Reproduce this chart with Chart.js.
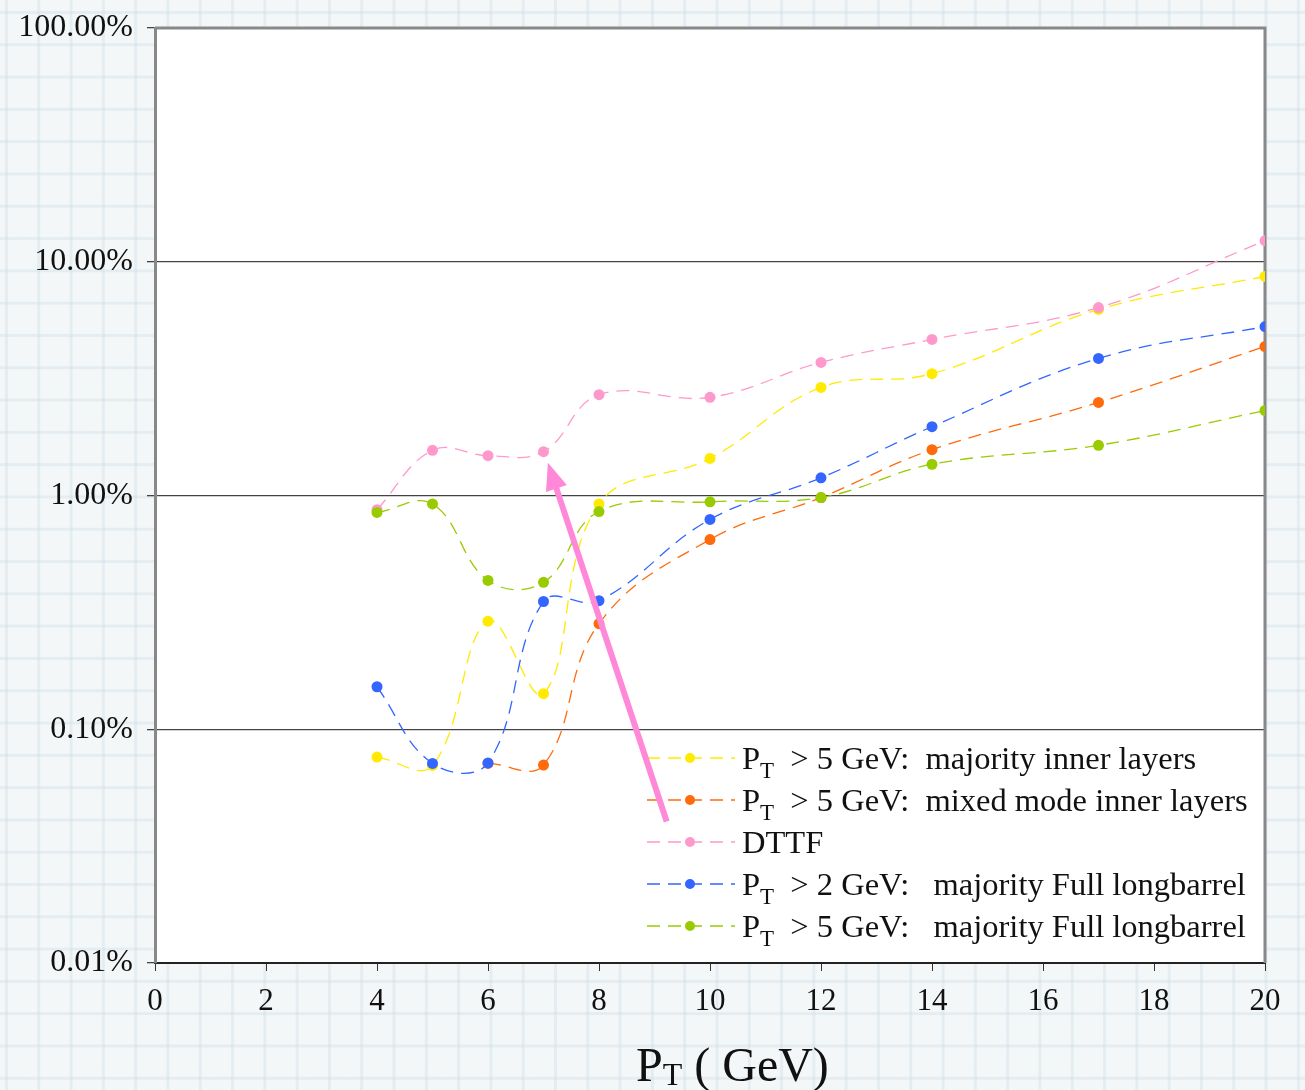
<!DOCTYPE html>
<html>
<head>
<meta charset="utf-8">
<script src="https://cdn.jsdelivr.net/npm/chart.js@4.4.1/dist/chart.umd.min.js"></script>
<style>
  html, body { margin: 0; padding: 0; }
  body {
    width: 1305px; height: 1090px; overflow: hidden;
    background-color: #f4f7f8;
    background-image:
      linear-gradient(to right, rgba(205, 222, 230, 0.4) 3px, transparent 3px),
      linear-gradient(to bottom, rgba(205, 222, 230, 0.4) 3px, transparent 3px);
    background-size: 32.3px 32.3px;
    background-position: 5px 11px;
  }
  #wrap { position: absolute; left: 0; top: 0; width: 1305px; height: 1090px; }
</style>
</head>
<body>
<div id="wrap"><canvas id="effChart" width="1305" height="1090"></canvas></div>
<script>
// transverse momentum points (GeV)
const ptValues = [4, 5, 6, 7, 8, 10, 12, 14, 17, 20];

// rates in percent
const majorityInner = [0.076, 0.070, 0.29, 0.142, 0.92, 1.44, 2.90, 3.32, 6.25, 8.65];
const mixedInner = [null, null, 0.0714, 0.0703, 0.283, 0.648, 0.98, 1.57, 2.50, 4.34];
const dttf = [0.87, 1.56, 1.48, 1.54, 2.70, 2.63, 3.71, 4.65, 6.37, 12.3];
const fullLongbarrel2 = [0.152, 0.0714, 0.0718, 0.352, 0.355, 0.79, 1.19, 1.97, 3.86, 5.28];
const fullLongbarrel5 = [0.846, 0.92, 0.433, 0.425, 0.854, 0.94, 0.98, 1.36, 1.64, 2.31];

const yDecades = [0.01, 0.1, 1, 10, 100];
const xMin = 0, xMax = 20, xStep = 2;

// legend entries: subscript-style labels "P_T ..."
const legendItems = [
  { key: 'majorityInner', main: 'P', sub: 'T', rest: '  > 5 GeV:  majority inner layers' },
  { key: 'mixedInner', main: 'P', sub: 'T', rest: '  > 5 GeV:  mixed mode inner layers' },
  { key: 'dttf', main: 'DTTF', sub: '', rest: '' },
  { key: 'fullLongbarrel2', main: 'P', sub: 'T', rest: '  > 2 GeV:   majority Full longbarrel' },
  { key: 'fullLongbarrel5', main: 'P', sub: 'T', rest: '  > 5 GeV:   majority Full longbarrel' }
];

const colors = {
  majorityInner: '#FFEA00',
  mixedInner: '#FF6A0A',
  dttf: '#FF99CC',
  fullLongbarrel2: '#3366FF',
  fullLongbarrel5: '#99CC00'
};

const seriesData = {
  majorityInner: majorityInner,
  mixedInner: mixedInner,
  dttf: dttf,
  fullLongbarrel2: fullLongbarrel2,
  fullLongbarrel5: fullLongbarrel5
};

// pink arrow annotation, in data units
const arrowTail = { x: 9.22, y: 0.0403 };
const arrowHead = { x: 7.08, y: 1.38 };

const serif = '"Liberation Serif", "Times New Roman", serif';

function makeDataset(key) {
  const pts = [];
  ptValues.forEach(function(x, i) {
    if (seriesData[key][i] !== null) pts.push({ x: x, y: seriesData[key][i] });
  });
  return {
    label: key,
    data: pts,
    borderColor: colors[key],
    backgroundColor: colors[key],
    borderWidth: 1.3,
    borderDash: [13, 8],
    pointRadius: 5.5,
    pointBorderWidth: 0,
    pointHoverRadius: 5.5,
    tension: 0.4,
    fill: false
  };
}

// index 0 is drawn on top
const drawOrder = ['fullLongbarrel5', 'fullLongbarrel2', 'dttf', 'mixedInner', 'majorityInner'];

const paperPlugin = {
  id: 'paper',
  beforeDraw(chart) {
    const a = chart.chartArea;
    const ctx = chart.ctx;
    ctx.save();
    ctx.fillStyle = '#ffffff';
    ctx.fillRect(a.left, a.top, a.right - a.left, a.bottom - a.top);
    ctx.restore();
  },
  beforeDatasetsDraw(chart) {
    const a = chart.chartArea;
    const ctx = chart.ctx;
    ctx.save();
    ctx.strokeStyle = '#888888';
    ctx.lineWidth = 3;
    ctx.beginPath();
    ctx.moveTo(a.left, a.top);
    ctx.lineTo(a.right, a.top);
    ctx.lineTo(a.right, a.bottom);
    ctx.stroke();
    ctx.restore();
  },
  afterDatasetsDraw(chart) {
    const a = chart.chartArea;
    const ctx = chart.ctx;
    const xs = chart.scales.x, ys = chart.scales.y;

    // legend
    ctx.save();
    const lx = a.left + 492;
    const ly = a.bottom - 205;
    legendItems.forEach(function(item, i) {
      const y = ly + i * 42;
      ctx.strokeStyle = colors[item.key];
      ctx.lineWidth = 1.3;
      ctx.setLineDash([13, 8]);
      ctx.beginPath();
      ctx.moveTo(lx, y);
      ctx.lineTo(lx + 88, y);
      ctx.stroke();
      ctx.setLineDash([]);
      ctx.fillStyle = colors[item.key];
      ctx.beginPath();
      ctx.arc(lx + 43, y, 5, 0, Math.PI * 2);
      ctx.fill();

      ctx.fillStyle = '#111111';
      ctx.textBaseline = 'alphabetic';
      ctx.textAlign = 'left';
      let tx = lx + 95;
      ctx.font = '32.5px ' + serif;
      ctx.fillText(item.main, tx, y + 11);
      tx += ctx.measureText(item.main).width;
      if (item.sub) {
        ctx.font = '23px ' + serif;
        ctx.fillText(item.sub, tx, y + 20);
        tx += ctx.measureText(item.sub).width;
      }
      ctx.font = '32.5px ' + serif;
      ctx.fillText(item.rest, tx, y + 11);
    });
    ctx.restore();

    // arrow
    const x0 = xs.getPixelForValue(arrowTail.x), y0 = ys.getPixelForValue(arrowTail.y);
    const x1 = xs.getPixelForValue(arrowHead.x), y1 = ys.getPixelForValue(arrowHead.y);
    const ang = Math.atan2(y1 - y0, x1 - x0);
    const headLen = 27, headHalf = 11;
    const bx = x1 - headLen * Math.cos(ang), by = y1 - headLen * Math.sin(ang);
    ctx.save();
    ctx.strokeStyle = '#FF88D8';
    ctx.fillStyle = '#FF88D8';
    ctx.lineWidth = 6;
    ctx.beginPath();
    ctx.moveTo(x0, y0);
    ctx.lineTo(bx + 4 * Math.cos(ang), by + 4 * Math.sin(ang));
    ctx.stroke();
    ctx.beginPath();
    ctx.moveTo(x1, y1);
    ctx.lineTo(bx + headHalf * Math.sin(ang), by - headHalf * Math.cos(ang));
    ctx.lineTo(bx - headHalf * Math.sin(ang), by + headHalf * Math.cos(ang));
    ctx.closePath();
    ctx.fill();
    ctx.restore();

    // x axis title "P_T ( GeV)"
    ctx.save();
    ctx.fillStyle = '#111111';
    ctx.textAlign = 'left';
    ctx.textBaseline = 'alphabetic';
    let tx = a.left + 481;
    const tb = a.bottom + 118;
    ctx.font = '48px ' + serif;
    ctx.fillText('P', tx, tb);
    tx += ctx.measureText('P').width;
    ctx.font = '32px ' + serif;
    ctx.fillText('T', tx, tb + 4);
    tx += ctx.measureText('T').width;
    ctx.font = '48px ' + serif;
    ctx.fillText(' ( GeV)', tx, tb);
    ctx.restore();
  }
};

const ctx = document.getElementById('effChart').getContext('2d');
new Chart(ctx, {
  type: 'line',
  data: { datasets: drawOrder.map(makeDataset) },
  plugins: [paperPlugin],
  options: {
    responsive: false,
    animation: false,
    events: [],
    layout: { autoPadding: false, padding: { top: 28, right: 40, left: 0, bottom: 0 } },
    plugins: {
      legend: { display: false },
      tooltip: { enabled: false }
    },
    scales: {
      x: {
        type: 'linear',
        min: xMin,
        max: xMax,
        ticks: {
          stepSize: xStep,
          color: '#111111',
          font: { family: serif, size: 31 },
          padding: 12,
          maxRotation: 0
        },
        grid: { drawOnChartArea: false, drawTicks: true, tickLength: 8, color: '#333333' },
        border: { display: true, color: '#222222', width: 2 },
        afterFit: function(scale) {
          scale.height = 127;
          scale.paddingLeft = 0;
          scale.paddingRight = 0;
        }
      },
      y: {
        type: 'logarithmic',
        min: yDecades[0],
        max: yDecades[yDecades.length - 1],
        afterBuildTicks: function(scale) {
          scale.ticks = yDecades.map(function(v) { return { value: v }; });
        },
        ticks: {
          color: '#111111',
          font: { family: serif, size: 32 },
          padding: 14,
          callback: function(v) { return Number(v).toFixed(2) + '%'; }
        },
        grid: { color: '#444444', lineWidth: 1.3, tickLength: 8 },
        border: { display: true, color: '#888888', width: 3 },
        afterFit: function(scale) {
          scale.width = 155;
          scale.paddingTop = 0;
          scale.paddingBottom = 0;
        }
      }
    }
  }
});
</script>
</body>
</html>
